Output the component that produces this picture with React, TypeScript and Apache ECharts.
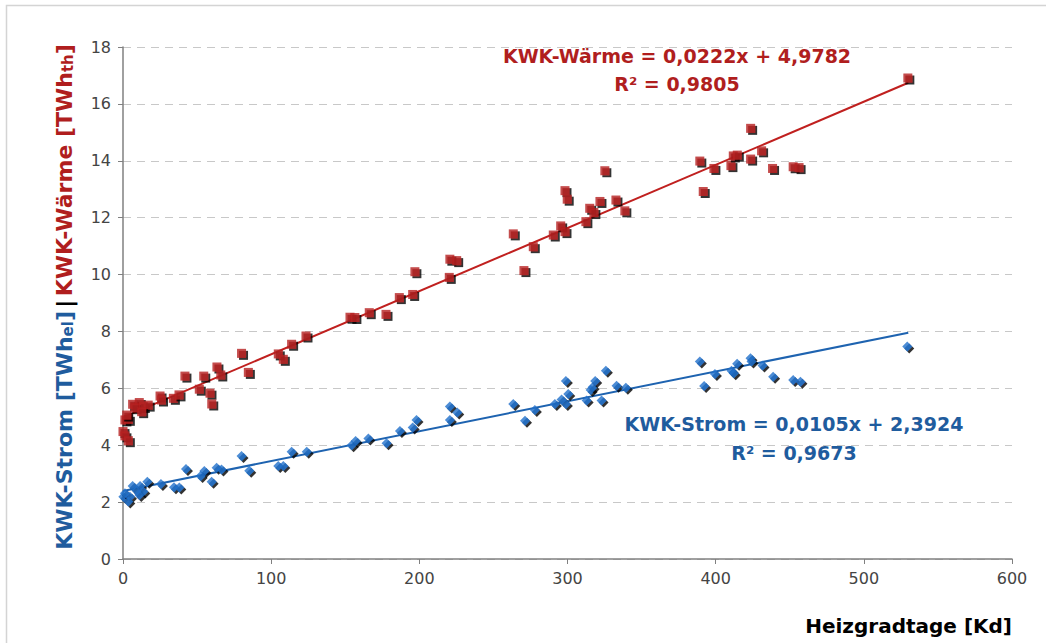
import React, { useEffect, useRef } from "react";
import * as echarts from "echarts";

// KWK-Wärme (red squares)
const waermeX = [0, 1.3, 3.6, 1.3, 3.6, 2.5, 6.5, 11, 8.1, 13.7, 17, 12.6, 25, 26, 34, 37.8, 41.8, 54.5, 63.4, 66, 51.5, 58.7, 59.9, 80, 84.6, 104.8, 108.2, 113.8, 123.5, 153.2, 156.5, 166.2, 177.5, 186.5, 195.5, 197, 220.2, 220.6, 225.2, 263.4, 270.6, 276.9, 290.4, 295.4, 298.3, 298.3, 299.8, 312.4, 315, 317.8, 321.9, 325.2, 332.7, 338.7, 389.3, 391.6, 398.8, 410.3, 411.9, 414.6, 423.6, 423.6, 431, 438.4, 452.3, 456.3, 529.7];
const waermeY = [4.48, 4.33, 4.16, 4.89, 4.91, 5.06, 5.44, 5.5, 5.32, 5.36, 5.41, 5.18, 5.73, 5.59, 5.65, 5.77, 6.43, 6.43, 6.75, 6.47, 5.97, 5.83, 5.45, 7.23, 6.56, 7.21, 7.02, 7.55, 7.84, 8.5, 8.49, 8.66, 8.6, 9.19, 9.3, 10.1, 9.9, 10.54, 10.49, 11.43, 10.14, 10.98, 11.39, 11.71, 11.51, 12.95, 12.65, 11.86, 12.33, 12.18, 12.57, 13.65, 12.62, 12.24, 13.99, 12.92, 13.73, 13.83, 14.17, 14.2, 15.14, 14.06, 14.35, 13.73, 13.79, 13.76, 16.91];

// KWK-Strom (blue diamonds)
const stromX = [0.2, 1.3, 4.7, 3.6, 6.5, 11.5, 16.4, 9.2, 13.7, 11, 25.6, 34.4, 38, 42.5, 54.9, 52.4, 59.8, 63.2, 66.5, 80, 85.2, 104.8, 108.2, 113.8, 124, 154.3, 157, 165.6, 177.9, 186.9, 195.5, 198.1, 220.6, 225.6, 220.6, 263.4, 271.3, 278, 291.5, 298.9, 296, 298.9, 300.5, 312.9, 315.6, 316.9, 318.7, 323, 325.9, 333.1, 339.4, 389.3, 392.2, 399.5, 410.7, 412.2, 414.5, 423.5, 424.2, 431.6, 438.8, 452.3, 457.2, 529.3];
const stromY = [2.19, 2.31, 2.19, 2.02, 2.57, 2.57, 2.72, 2.4, 2.37, 2.25, 2.64, 2.52, 2.51, 3.16, 3.09, 2.92, 2.72, 3.21, 3.15, 3.62, 3.1, 3.27, 3.27, 3.77, 3.77, 4.0, 4.15, 4.24, 4.07, 4.5, 4.62, 4.89, 5.36, 5.15, 4.89, 5.45, 4.86, 5.24, 5.45, 6.26, 5.61, 5.45, 5.8, 5.57, 5.94, 6.04, 6.26, 5.57, 6.62, 6.09, 6.02, 6.94, 6.08, 6.5, 6.62, 6.53, 6.86, 7.06, 6.94, 6.8, 6.41, 6.29, 6.23, 7.47];

// regression lines (from the chart's equations)
const waermeSlope = 0.0222;
const waermeIntercept = 4.9782;
const stromSlope = 0.0105;
const stromIntercept = 2.3924;
const trendRange = [0, 530];

const xTicks = { min: 0, max: 600, interval: 100 };
const yTicks = { min: 0, max: 18, interval: 2 };

const RED = "#B51E1E";
const BLUE = "#1F6FCB";
const RED_TEXT = "#B01E1E";
const BLUE_TEXT = "#1F5C9E";

export default function App() {
  const ref = useRef<HTMLDivElement>(null);
  useEffect(() => {
    if (!ref.current) return;
    const chart = echarts.init(ref.current, null, { renderer: "svg" });
    const wData = waermeX.map((x, i) => [x, waermeY[i]]);
    const sData = stromX.map((x, i) => [x, stromY[i]]);
    const wTrend = trendRange.map((x) => [x, waermeSlope * x + waermeIntercept]);
    const sTrend = trendRange.map((x) => [x, stromSlope * x + stromIntercept]);
    const font = "'DejaVu Sans', Verdana, sans-serif";
    const shadow = { shadowColor: "#000", shadowBlur: 0, shadowOffsetX: 2, shadowOffsetY: 2 };
    chart.setOption({
      animation: false,
      backgroundColor: "#fff",
      textStyle: { fontFamily: font },
      grid: { left: 123, right: 34, top: 47, bottom: 84 },
      xAxis: {
        type: "value",
        min: xTicks.min,
        max: xTicks.max,
        interval: xTicks.interval,
        axisLine: { lineStyle: { color: "#808080", width: 1.5 } },
        axisTick: { show: true, length: 5, lineStyle: { color: "#808080" } },
        axisLabel: { color: "#444", fontSize: 16, margin: 11, fontFamily: font },
        splitLine: { show: false },
      },
      yAxis: {
        type: "value",
        min: yTicks.min,
        max: yTicks.max,
        interval: yTicks.interval,
        axisLine: { show: true, lineStyle: { color: "#808080", width: 1.5 } },
        axisTick: { show: true, length: 5, lineStyle: { color: "#808080" } },
        axisLabel: { color: "#444", fontSize: 16, margin: 12, fontFamily: font },
        splitLine: { show: true, lineStyle: { color: "#C8C8C8", type: [8, 6], width: 1.2 } },
      },
      series: [
        {
          type: "line",
          data: wTrend,
          symbol: "none",
          lineStyle: { color: "#C0201F", width: 2 },
          z: 1,
        },
        {
          type: "line",
          data: sTrend,
          symbol: "none",
          lineStyle: { color: "#1E63B0", width: 2 },
          z: 1,
        },
        {
          type: "scatter",
          data: wData,
          symbol: "rect",
          symbolSize: 9,
          itemStyle: { color: RED, ...shadow },
          z: 3,
        },
        {
          type: "scatter",
          data: sData,
          symbol: "diamond",
          symbolSize: 10,
          itemStyle: { color: BLUE, ...shadow },
          z: 3,
        },
      ],
      graphic: [
        {
          type: "rect",
          shape: { x: 6.5, y: 5.5, width: 1100, height: 700 },
          style: { fill: "none", stroke: "#D4D4D4", lineWidth: 1.5 },
          silent: true,
          z: -10,
        },
        {
          type: "text",
          x: 64,
          y: 297,
          rotation: Math.PI / 2,
          style: {
            text: "{b|KWK-Strom [TWh}{bs|el}{b|]} {k||} {r|KWK-Wärme [TWh}{rs|th}{r|]}",
            align: "center",
            verticalAlign: "middle",
            rich: {
              b: { fill: BLUE_TEXT, fontSize: 22, fontWeight: "bold", fontFamily: font, verticalAlign: "middle" },
              bs: { fill: BLUE_TEXT, fontSize: 15, fontWeight: "bold", fontFamily: font, verticalAlign: "bottom" },
              r: { fill: RED_TEXT, fontSize: 22, fontWeight: "bold", fontFamily: font, verticalAlign: "middle" },
              rs: { fill: RED_TEXT, fontSize: 15, fontWeight: "bold", fontFamily: font, verticalAlign: "bottom" },
              k: { fill: "#000", fontSize: 22, fontWeight: "bold", fontFamily: font, verticalAlign: "middle" },
            },
          },
        },
        {
          type: "text",
          x: 677,
          y: 56,
          style: {
            text: "KWK-Wärme = 0,0222x + 4,9782",
            fill: RED_TEXT,
            font: `bold 19px ${font}`,
            align: "center",
            verticalAlign: "middle",
          },
        },
        {
          type: "text",
          x: 677,
          y: 84,
          style: {
            text: "R² = 0,9805",
            fill: RED_TEXT,
            font: `bold 19px ${font}`,
            align: "center",
            verticalAlign: "middle",
          },
        },
        {
          type: "text",
          x: 794,
          y: 424,
          style: {
            text: "KWK-Strom = 0,0105x + 2,3924",
            fill: BLUE_TEXT,
            font: `bold 19px ${font}`,
            align: "center",
            verticalAlign: "middle",
          },
        },
        {
          type: "text",
          x: 794,
          y: 453,
          style: {
            text: "R² = 0,9673",
            fill: BLUE_TEXT,
            font: `bold 19px ${font}`,
            align: "center",
            verticalAlign: "middle",
          },
        },
        {
          type: "text",
          x: 1012,
          y: 626,
          style: {
            text: "Heizgradtage [Kd]",
            fill: "#000",
            font: `bold 20px ${font}`,
            align: "right",
            verticalAlign: "middle",
          },
        },
      ],
    });
    return () => chart.dispose();
  }, []);
  return <div ref={ref} style={{ width: 1046, height: 643, position: "absolute", left: 0, top: 0 }} />;
}
